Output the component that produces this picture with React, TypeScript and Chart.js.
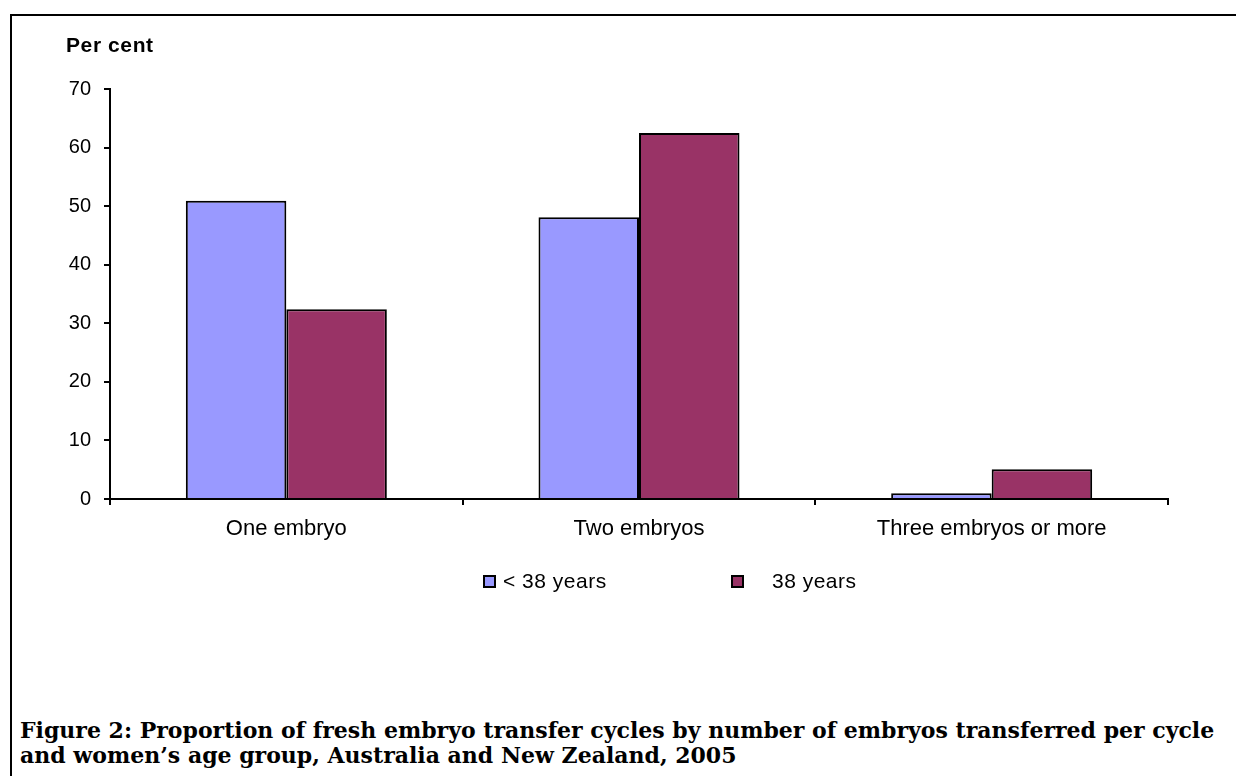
import React, { useEffect, useRef } from "react";
import { Chart, registerables } from "chart.js";

Chart.register(...registerables);

const categories = ["One embryo", "Two embryos", "Three embryos or more"];
const under38Values = [50.9, 48.1, 1.0];
const over38Values = [32.4, 62.5, 5.1];
const seriesLabels = ["< 38 years", "38 years"];
const seriesColors = ["#9999FF", "#993366"];
const yMin = 0;
const yMax = 70;
const yStep = 10;
const yAxisTitle = "Per cent";
const captionLine1 =
  "Figure 2: Proportion of fresh embryo transfer cycles by number of embryos transferred per cycle";
const captionLine2 = "and women\u2019s age group, Australia and New Zealand, 2005";

const SANS = "'Liberation Sans', Arial, Helvetica, sans-serif";
const SERIF = "'DejaVu Serif', 'Liberation Serif', serif";

export default function App() {
  const canvasRef = useRef<HTMLCanvasElement | null>(null);
  const line1Ref = useRef<HTMLSpanElement | null>(null);
  const captionRef = useRef<HTMLDivElement | null>(null);

  useEffect(() => {
    const canvas = canvasRef.current;
    if (!canvas) return;
    const chart = new Chart(canvas, {
      type: "bar",
      data: {
        labels: categories,
        datasets: [
          {
            label: seriesLabels[0],
            data: under38Values,
            backgroundColor: seriesColors[0],
            borderColor: "#000",
            borderWidth: 2,
            categoryPercentage: 0.57,
            barPercentage: 1,
          },
          {
            label: seriesLabels[1],
            data: over38Values,
            backgroundColor: seriesColors[1],
            borderColor: "#000",
            borderWidth: 2,
            categoryPercentage: 0.57,
            barPercentage: 1,
          },
        ],
      },
      options: {
        responsive: false,
        animation: false,
        devicePixelRatio: 1,
        layout: { padding: { left: 0, right: 68, top: 89, bottom: 11 } },
        plugins: {
          legend: { display: false },
          title: { display: false },
          tooltip: { enabled: false },
        },
        scales: {
          x: {
            grid: {
              display: true,
              drawOnChartArea: false,
              drawTicks: true,
              tickLength: 6,
              color: "#000",
              lineWidth: 2,
              offset: true,
            },
            border: { display: true, color: "#000", width: 2 },
            ticks: {
              color: "#000",
              font: { family: SANS, size: 22 },
              padding: 11,
              maxRotation: 0,
              autoSkip: false,
            },
            afterFit: (s: any) => {
              s.height = 60;
            },
          },
          y: {
            min: yMin,
            max: yMax,
            grid: {
              display: true,
              drawOnChartArea: false,
              drawTicks: true,
              tickLength: 6,
              color: "#000",
              lineWidth: 2,
            },
            border: { display: true, color: "#000", width: 2 },
            ticks: {
              stepSize: yStep,
              color: "#000",
              font: { family: SANS, size: 20 },
              padding: 13,
            },
            afterFit: (s: any) => {
              s.width = 110;
            },
          },
        },
      },
    });
    return () => chart.destroy();
  }, []);

  useEffect(() => {
    const span = line1Ref.current;
    const cap = captionRef.current;
    if (!span || !cap) return;
    const w = span.getBoundingClientRect().width;
    if (w > 0) {
      const size = (20 * 1195) / w;
      cap.style.fontSize = size.toFixed(2) + "px";
    }
  }, []);

  const legendPos = [
    { box: 483, text: 503 },
    { box: 731, text: 772 },
  ];

  return (
    <div
      style={{
        position: "absolute",
        left: 0,
        top: 0,
        width: 1236,
        height: 776,
        overflow: "hidden",
        background: "#fff",
      }}
    >
      <div
        style={{
          position: "absolute",
          left: 10,
          top: 14,
          width: 1400,
          height: 1000,
          border: "2px solid #000",
        }}
      />
      <canvas
        ref={canvasRef}
        width={1236}
        height={570}
        style={{ position: "absolute", left: 0, top: 0, width: 1236, height: 570 }}
      />
      <div
        style={{
          position: "absolute",
          left: 66,
          top: 34,
          fontFamily: SANS,
          fontWeight: "bold",
          fontSize: 21,
          lineHeight: "21px",
          letterSpacing: "0.6px",
          whiteSpace: "nowrap",
          color: "#000",
        }}
      >
        {yAxisTitle}
      </div>
      {seriesLabels.map((lab, i) => (
        <React.Fragment key={lab}>
          <div
            style={{
              position: "absolute",
              left: legendPos[i].box,
              top: 575,
              width: 13,
              height: 13,
              boxSizing: "border-box",
              border: "2px solid #000",
              background: seriesColors[i],
            }}
          />
          <div
            style={{
              position: "absolute",
              left: legendPos[i].text,
              top: 569,
              fontFamily: SANS,
              fontSize: 21,
              lineHeight: "24px",
              letterSpacing: "0.5px",
              whiteSpace: "nowrap",
              color: "#000",
            }}
          >
            {lab}
          </div>
        </React.Fragment>
      ))}
      <div
        ref={captionRef}
        style={{
          position: "absolute",
          left: 20,
          top: 718,
          fontFamily: SERIF,
          fontWeight: "bold",
          fontSize: 20,
          lineHeight: "25px",
          whiteSpace: "nowrap",
          color: "#000",
        }}
      >
        <span ref={line1Ref}>{captionLine1}</span>
        <br />
        <span>{captionLine2}</span>
      </div>
    </div>
  );
}
